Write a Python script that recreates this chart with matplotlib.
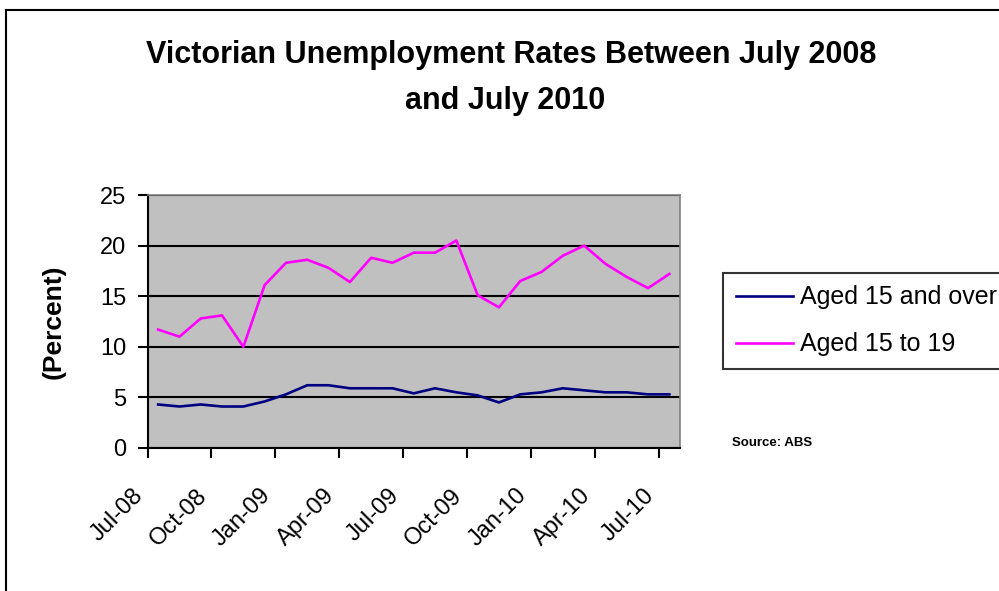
import matplotlib
matplotlib.use("Agg")
import matplotlib.pyplot as plt
from matplotlib import font_manager
from matplotlib.lines import Line2D

# ---- data ----
tick_labels = ['Jul-08', 'Oct-08', 'Jan-09', 'Apr-09', 'Jul-09',
               'Oct-09', 'Jan-10', 'Apr-10', 'Jul-10']
aged_15_over = [4.3, 4.1, 4.3, 4.1, 4.1, 4.6, 5.3, 6.2, 6.2, 5.9, 5.9, 5.9,
                5.4, 5.9, 5.5, 5.2, 4.5, 5.3, 5.5, 5.9, 5.7, 5.5, 5.5, 5.3, 5.3]
aged_15_19 = [11.7, 11.0, 12.8, 13.1, 10.0, 16.1, 18.3, 18.6, 17.8, 16.4, 18.8, 18.3,
              19.3, 19.3, 20.5, 15.1, 13.9, 16.5, 17.4, 19.0, 20.0, 18.2, 16.9, 15.8, 17.2]
series_names = ['Aged 15 and over', 'Aged 15 to 19']
title_lines = ['Victorian Unemployment Rates Between July 2008', 'and July 2010']

names = {f.name for f in font_manager.fontManager.ttflist}
base = 'Liberation Sans' if 'Liberation Sans' in names else 'DejaVu Sans'
plt.rcParams['font.family'] = [base, 'DejaVu Sans']

fig = plt.figure(figsize=(9.99, 5.91), dpi=100)
W, H = 999, 591
ax = fig.add_axes([147.5 / W, 1 - 448 / H, (680 - 147.5) / W, (448 - 195) / H])
ax.set_facecolor('#C0C0C0')

x = list(range(len(aged_15_over)))
ax.plot(x, aged_15_over, color='#000080', lw=1.9, label=series_names[0], zorder=3)
ax.plot(x, aged_15_19, color='#FF00FF', lw=1.9, label=series_names[1], zorder=3)

ax.set_xlim(-0.5, len(x) - 0.5)
ax.set_ylim(0, 25)
ax.set_yticks([0, 5, 10, 15, 20, 25])
ax.set_xticks([-0.5 + 3 * i for i in range(len(tick_labels))])
ax.set_xticklabels(tick_labels, rotation=45, ha='right', va='top')
ax.tick_params(axis='both', direction='out', length=7.2, width=1.5, colors='black',
               labelsize=17)
ax.tick_params(axis='y', pad=8)
ax.tick_params(axis='x', pad=19)
ax.yaxis.grid(True, color='black', lw=1.5)
ax.set_axisbelow(True)
for s in ['top', 'right']:
    ax.spines[s].set_color('#808080')
    ax.spines[s].set_linewidth(1.2)
for s in ['left', 'bottom']:
    ax.spines[s].set_color('black')
    ax.spines[s].set_linewidth(1.5)

ax.set_ylabel('(Percent)', fontsize=19, fontweight='bold')
ax.yaxis.set_label_coords(-(147.5 - 66) / (680 - 147.5), 0.5)

fig.text(511 / W, 1 - 55 / H, title_lines[0], ha='center', va='center',
         fontsize=22, fontweight='bold')
fig.text(505 / W, 1 - 101 / H, title_lines[1], ha='center', va='center',
         fontsize=22, fontweight='bold')

leg = ax.legend(loc='upper left', bbox_to_anchor=(723 / W, 1 - 273 / H),
                bbox_transform=fig.transFigure, fontsize=18, frameon=True,
                fancybox=False, edgecolor='black', borderpad=0.5,
                handlelength=2.3, handletextpad=0.3, labelspacing=0.92,
                borderaxespad=0)
leg.get_frame().set_linewidth(1.5)

fig.text(732 / W, 1 - 443 / H, 'Source: ABS', ha='left', va='center',
         fontsize=9.5, fontweight='bold')

# outer chart border (extends past right/bottom edges)
fig.add_artist(Line2D([6 / W, 1.01], [1 - 10 / H, 1 - 10 / H], transform=fig.transFigure,
                      color='black', lw=1.5))
fig.add_artist(Line2D([6 / W, 6 / W], [-0.01, 1 - 10 / H], transform=fig.transFigure,
                      color='black', lw=1.5))

fig.savefig('out.png', dpi=100)
